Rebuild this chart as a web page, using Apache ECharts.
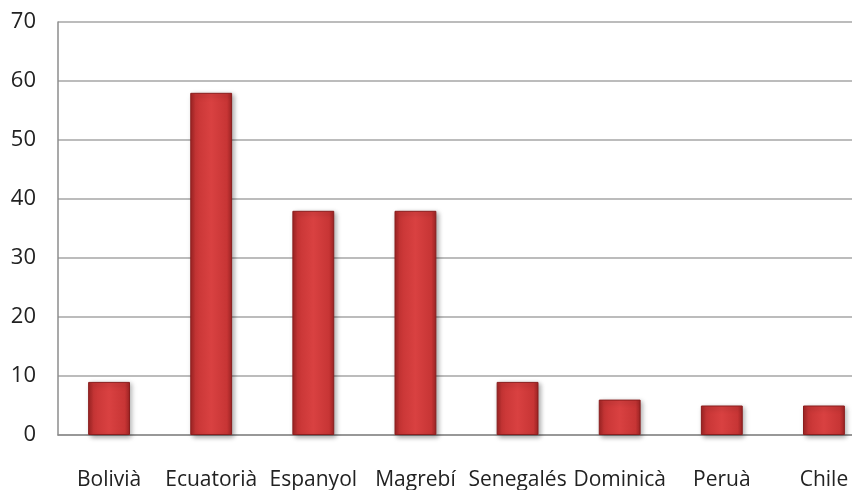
<!DOCTYPE html>
<html><head><meta charset="utf-8">
<script src="https://cdn.jsdelivr.net/npm/echarts@6/dist/echarts.min.js"></script>
<style>html,body{margin:0;padding:0;background:#fff}#c{width:852px;height:490px}</style>
</head><body><div id="c"></div>
<script>
var categories = ["Bolivià","Ecuatorià","Espanyol","Magrebí","Senegalés","Dominicà","Peruà","Chile"];
var values = [9, 58, 38, 38, 9, 6, 5, 5];
var yTicks = {min: 0, max: 70, interval: 10};

var chart = echarts.init(document.getElementById('c'));
chart.setOption({
  animation: false,
  grid: {left: 58, width: 817, top: 22, bottom: 55, containLabel: false, outerBoundsMode: 'none'},
  xAxis: {
    type: 'category', data: categories,
    axisLine: {lineStyle: {color: '#8c8c8c', width: 1.5}},
    axisTick: {show: false},
    axisLabel: {color: '#222', fontSize: 21, fontFamily: 'Open Sans', margin: 35, interval: 0, hideOverlap: false}
  },
  yAxis: {
    type: 'value', min: yTicks.min, max: yTicks.max, interval: yTicks.interval,
    axisLine: {show: true, lineStyle: {color: '#8c8c8c', width: 1.5}},
    axisTick: {show: false},
    splitLine: {lineStyle: {color: '#a6a6a6', width: 1.5}},
    axisLabel: {color: '#222', fontSize: 22, fontFamily: 'Open Sans', margin: 22}
  },
  series: [{
    type: 'bar', data: values, barWidth: '41%',
    itemStyle: {
      color: new echarts.graphic.LinearGradient(0, 0, 1, 0, [
        {offset: 0, color: '#9e2424'},
        {offset: 0.12, color: '#c73535'},
        {offset: 0.5, color: '#d94141'},
        {offset: 0.88, color: '#c73535'},
        {offset: 1, color: '#9e2424'}
      ]),
      borderColor: '#8a1e1e', borderWidth: 1,
      shadowColor: 'rgba(0,0,0,0.35)', shadowBlur: 5, shadowOffsetX: 2, shadowOffsetY: 2
    }
  }]
});
</script></body></html>
